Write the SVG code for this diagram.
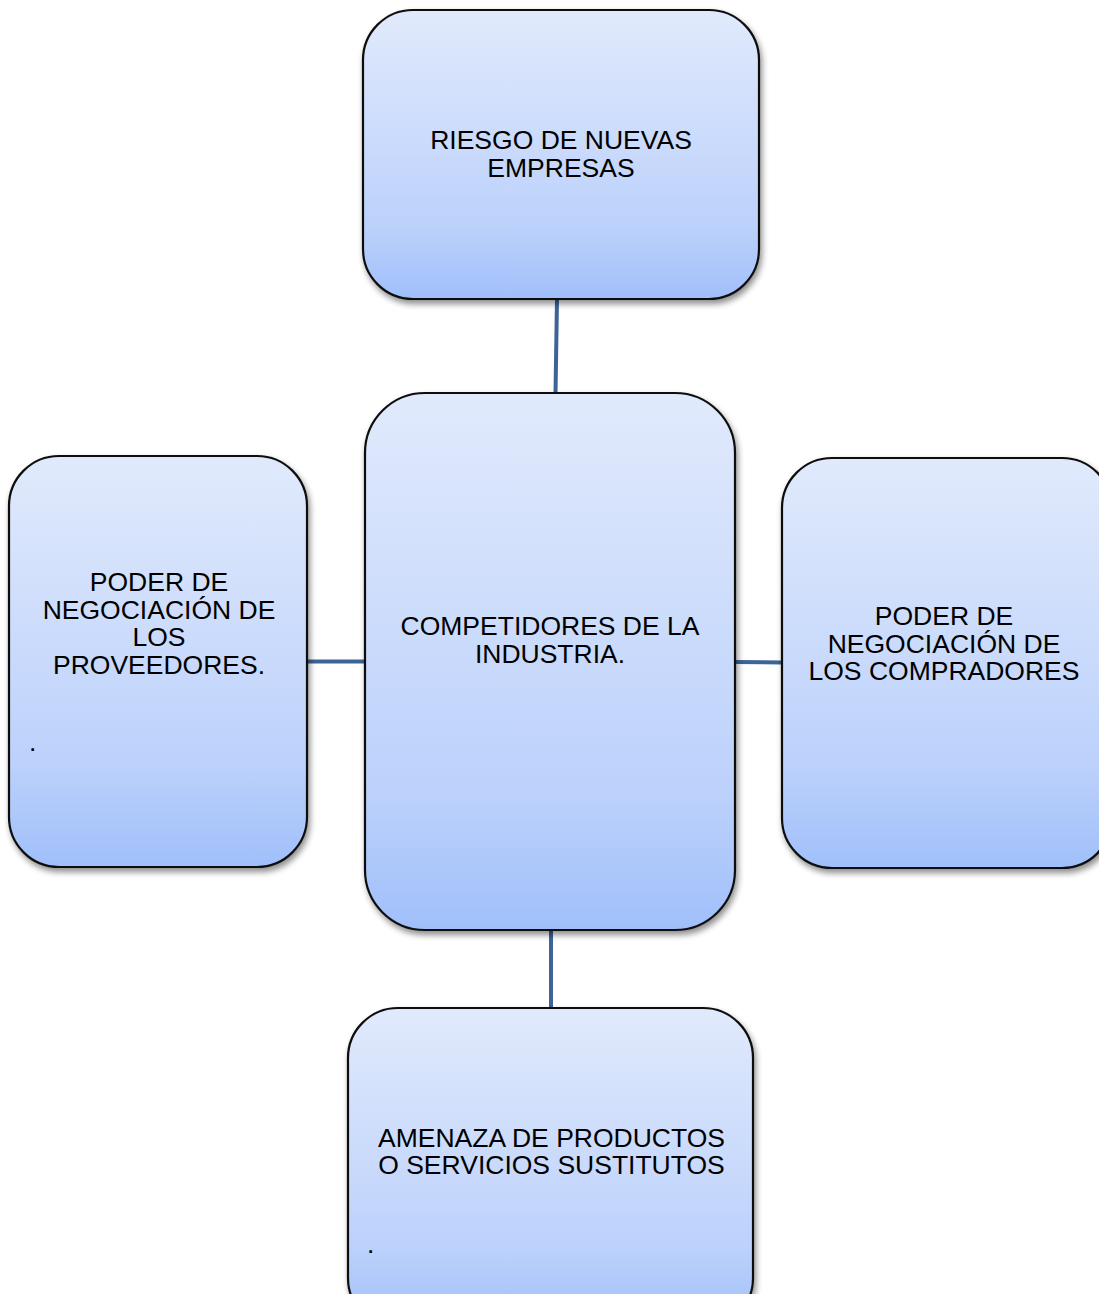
<svg xmlns="http://www.w3.org/2000/svg" width="1099" height="1294" viewBox="0 0 1099 1294">
  <defs>
    <linearGradient id="boxFill" x1="0" y1="0" x2="0" y2="1">
      <stop offset="0" stop-color="#e1eafc"/>
      <stop offset="0.75" stop-color="#bcd1fb"/>
      <stop offset="1" stop-color="#a0bffa"/>
    </linearGradient>
    <filter id="shadow" x="-10%" y="-10%" width="120%" height="125%">
      <feGaussianBlur in="SourceAlpha" stdDeviation="3"/>
      <feOffset dx="2" dy="4" result="b"/>
      <feComponentTransfer><feFuncA type="linear" slope="0.45"/></feComponentTransfer>
      <feMerge><feMergeNode/><feMergeNode in="SourceGraphic"/></feMerge>
    </filter>
  </defs>
  <style>
    .box { fill: url(#boxFill); stroke: #111; stroke-width: 2.2; filter: url(#shadow); }
    .lbl { font-family: "Liberation Sans", Arial, sans-serif; font-size: 26.5px; fill: #000; text-anchor: middle; }
    .dot { font-family: "Liberation Sans", Arial, sans-serif; font-size: 26.5px; fill: #000; }
    .link { stroke: #3c6496; stroke-width: 4; fill: none; }
  </style>
  <rect width="1099" height="1294" fill="#fff"/>

  <g id="connectors">
    <line class="link" x1="557" y1="299" x2="555.5" y2="393"/>
    <line class="link" x1="307" y1="661.5" x2="365" y2="661.5"/>
    <line class="link" x1="735" y1="662" x2="782" y2="662.5"/>
    <line class="link" x1="551" y1="930" x2="551" y2="1008"/>
  </g>

  <g id="riesgo-nuevas-empresas">
    <rect class="box" x="363" y="10" width="396" height="289" rx="50" ry="50"/>
    <text class="lbl" x="561" y="149">RIESGO DE NUEVAS</text>
    <text class="lbl" x="561" y="177">EMPRESAS</text>
  </g>

  <g id="competidores-industria">
    <rect class="box" x="365" y="393" width="370" height="537" rx="60" ry="60"/>
    <text class="lbl" x="550" y="635">COMPETIDORES DE LA</text>
    <text class="lbl" x="550" y="663">INDUSTRIA.</text>
  </g>

  <g id="poder-proveedores">
    <rect class="box" x="9" y="456" width="298" height="411" rx="50" ry="50"/>
    <text class="lbl" x="159" y="591">PODER DE</text>
    <text class="lbl" x="159" y="619">NEGOCIACIÓN DE</text>
    <text class="lbl" x="159" y="646">LOS</text>
    <text class="lbl" x="159" y="674">PROVEEDORES.</text>
    <text class="dot" x="29" y="751">.</text>
  </g>

  <g id="poder-compradores">
    <rect class="box" x="782" y="458" width="330" height="410" rx="50" ry="50"/>
    <text class="lbl" x="944" y="625">PODER DE</text>
    <text class="lbl" x="944" y="653">NEGOCIACIÓN DE</text>
    <text class="lbl" x="944" y="680">LOS COMPRADORES</text>
  </g>

  <g id="amenaza-sustitutos">
    <rect class="box" x="348" y="1008" width="405" height="320" rx="50" ry="50"/>
    <text class="lbl" x="551.5" y="1147">AMENAZA DE PRODUCTOS</text>
    <text class="lbl" x="551.5" y="1174">O SERVICIOS SUSTITUTOS</text>
    <text class="dot" x="367" y="1253">.</text>
  </g>
</svg>
